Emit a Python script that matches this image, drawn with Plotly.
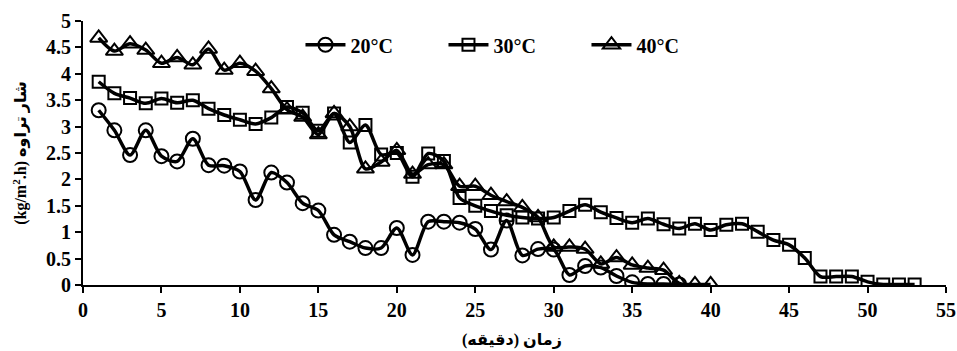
import plotly.graph_objects as go

# Time (minutes)
time_20 = list(range(1, 39))
time_30 = list(range(1, 54))
time_40 = list(range(1, 41))

# Permeate flux (kg/m2.h)
flux_20 = [3.31, 2.93, 2.46, 2.93, 2.44, 2.34, 2.77, 2.27, 2.26, 2.15,
           1.61, 2.13, 1.94, 1.55, 1.41, 0.95, 0.82, 0.70, 0.70, 1.08,
           0.57, 1.20, 1.20, 1.18, 1.06, 0.67, 1.22, 0.56, 0.68, 0.67,
           0.19, 0.36, 0.33, 0.17, 0.05, 0.02, 0.02, 0.01]
flux_30 = [3.85, 3.63, 3.54, 3.44, 3.53, 3.45, 3.50, 3.34, 3.22, 3.13,
           3.05, 3.17, 3.37, 3.26, 2.92, 3.25, 2.70, 3.03, 2.47, 2.50,
           2.05, 2.49, 2.35, 1.65, 1.50, 1.40, 1.32, 1.28, 1.26, 1.28,
           1.40, 1.52, 1.38, 1.27, 1.18, 1.26, 1.15, 1.07, 1.16, 1.04,
           1.14, 1.16, 1.01, 0.85, 0.76, 0.51, 0.16, 0.16, 0.16, 0.06,
           0.01, 0.01, 0.01]
flux_40 = [4.68, 4.43, 4.57, 4.45, 4.20, 4.31, 4.17, 4.47, 4.07, 4.20,
           4.05, 3.72, 3.32, 3.18, 2.85, 3.25, 3.00, 2.20, 2.33, 2.55,
           2.10, 2.28, 2.28, 1.87, 1.87, 1.70, 1.58, 1.47, 1.28, 0.72,
           0.72, 0.68, 0.40, 0.52, 0.38, 0.32, 0.28, 0.03, 0.01, 0.01]

series_names = ["20°C", "30°C", "40°C"]
x_ticks = list(range(0, 60, 5))
y_ticks = [0, 0.5, 1, 1.5, 2, 2.5, 3, 3.5, 4, 4.5, 5]
x_title = "\u200fزمان (دقیقه)\u200f"
y_title = "(kg/m<sup>2</sup>.h) شار تراوه"

SERIF = "Liberation Serif, Times New Roman, DejaVu Serif, DejaVu Sans"

fig = go.Figure()
specs = [
    (time_20, flux_20, series_names[0], "circle-open", 14),
    (time_30, flux_30, series_names[1], "square-open", 12),
    (time_40, flux_40, series_names[2], "triangle-up-open", 15),
]
for xs, ys, name, sym, size in specs:
    fig.add_trace(go.Scatter(
        x=xs, y=ys, name=name, mode="lines+markers",
        line=dict(color="black", width=3.5, shape="spline", smoothing=0.8),
        marker=dict(symbol=sym, size=size, color="black",
                    line=dict(color="black", width=2)),
    ))

fig.update_layout(
    width=957, height=351,
    margin=dict(l=83, r=11, t=21, b=66),
    paper_bgcolor="white", plot_bgcolor="white",
    font=dict(family=SERIF, color="black"),
    showlegend=True,
    legend=dict(
        orientation="h", x=0.252, y=0.91, xanchor="left", yanchor="middle",
        font=dict(family=SERIF, size=20, weight="bold", color="black"),
        bgcolor="rgba(0,0,0,0)", itemwidth=40,
        entrywidth=88, entrywidthmode="pixels",
    ),
    xaxis=dict(
        range=[0, 55], tickvals=x_ticks, ticktext=[str(v) for v in x_ticks],
        showline=True, linecolor="black", linewidth=2,
        ticks="outside", ticklen=6, tickwidth=2, tickcolor="black",
        showgrid=False, zeroline=False, automargin=False,
        ticklabeloverflow="allow",
        tickfont=dict(family=SERIF, size=20, weight="bold", color="black"),
    ),
    yaxis=dict(
        range=[0, 5], tickvals=y_ticks, ticktext=[f"{v:g}" for v in y_ticks],
        showline=True, linecolor="black", linewidth=2,
        ticks="outside", ticklen=6, tickwidth=2, tickcolor="black",
        showgrid=False, zeroline=False, automargin=False,
        ticklabeloverflow="allow",
        tickfont=dict(family=SERIF, size=20, weight="bold", color="black"),
        title=dict(text=y_title,
                   font=dict(family=SERIF, size=16, weight="bold", color="black")),
    ),
    annotations=[dict(
        text=x_title, xref="paper", yref="paper", x=0.497, y=-0.208,
        xanchor="center", yanchor="middle", showarrow=False,
        font=dict(family=SERIF, size=16, weight="bold", color="black"),
    )],
)

# remove the default page margin so the 957x351 figure fills the window exactly
fig.write_html(
    "out.html",
    config={"displayModeBar": False},
    post_script="document.body.style.margin='0';"
                "document.documentElement.style.overflow='hidden';",
)
